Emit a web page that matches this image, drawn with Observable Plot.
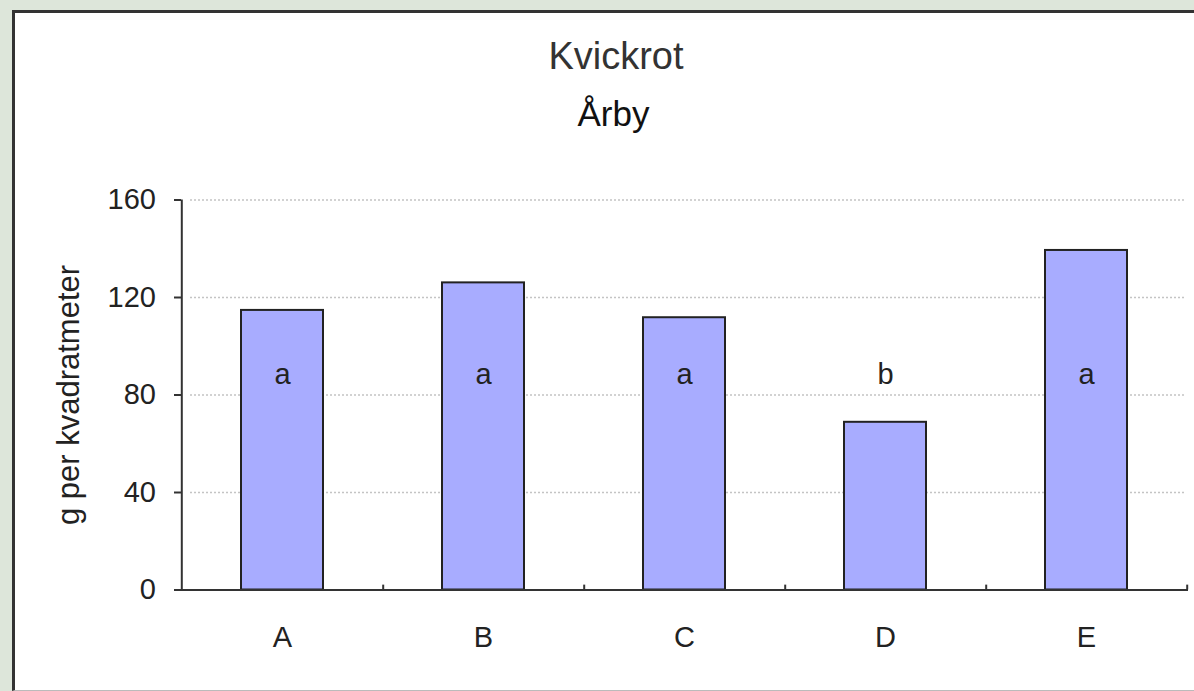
<!DOCTYPE html>
<html>
<head>
<meta charset="utf-8">
<script src="https://cdn.jsdelivr.net/npm/d3@7"></script>
<script src="https://cdn.jsdelivr.net/npm/@observablehq/plot@0.6"></script>
<style>
  html, body { margin: 0; padding: 0; width: 1194px; height: 691px; overflow: hidden; background: #dde6da; }
  #panel { position: absolute; left: 12px; top: 10px; width: 1300px; height: 677px; background: #fff;
           border-left: 3px solid #333; border-top: 3px solid #333; border-bottom: 1px solid #bbb; }
  .ttl { position: absolute; white-space: nowrap; transform: translateX(-50%); line-height: 1;
         font-family: "Liberation Sans", Arial, sans-serif; }
  #chart { position: absolute; left: 0; top: 0; }
</style>
</head>
<body>
<div id="panel"></div>
<div id="t1" class="ttl"></div>
<div id="t2" class="ttl"></div>
<div id="chart"></div>
<script>
const categories = ["A", "B", "C", "D", "E"];
const values = [114.7, 126, 111.7, 68.8, 139.3];
const letters = ["a", "a", "a", "b", "a"];
const yTicks = [0, 40, 80, 120, 160];
const letterLevel = 88.5;
const title = "Kvickrot";
const subtitle = "Årby";
const yLabel = "g per kvadratmeter";

const data = categories.map((c, i) => ({cat: c, value: values[i], letter: letters[i]}));

const W = 1194, H = 691, ML = 181, MR = 6, MT = 199.5, MB = 101.5;
const step = (W - ML - MR) / categories.length;

const t1 = document.getElementById("t1");
t1.textContent = title;
Object.assign(t1.style, {left: "616px", top: "36.5px", fontSize: "38px", color: "#333"});
const t2 = document.getElementById("t2");
t2.textContent = subtitle;
Object.assign(t2.style, {left: "613.5px", top: "95.5px", fontSize: "35px", color: "#111"});

const plot = Plot.plot({
  width: W, height: H,
  marginLeft: ML, marginRight: MR, marginTop: MT, marginBottom: MB,
  style: {background: "transparent", fontFamily: "'Liberation Sans', Arial, sans-serif", fontSize: "29px", color: "#222", overflow: "visible"},
  x: {domain: categories, paddingInner: 0.59, paddingOuter: 0.295, axis: null},
  y: {domain: [0, 160], axis: null},
  marks: [
    Plot.ruleY(yTicks.filter(t => t > 0), {stroke: "#c4c4c4", strokeWidth: 1.5, strokeDasharray: "2,2", insetLeft: 9, insetRight: 4}),
    Plot.barY(data, {x: "cat", y: "value", fill: "#a8acff", stroke: "#222", strokeWidth: 2}),
    Plot.text(data, {x: "cat", y: () => letterLevel, text: "letter", fontSize: 29, fill: "#222"}),
    Plot.ruleY([0], {stroke: "#333", strokeWidth: 2}),
    Plot.ruleX([categories[0]], {dx: -step / 2, y1: 0, y2: 160, stroke: "#333", strokeWidth: 2}),
    Plot.ruleX(categories, {dx: step / 2, y1: 0, y2: 2, stroke: "#333", strokeWidth: 2}),
    Plot.axisX({label: null, tickSize: 0, tickPadding: 36, fontSize: 29, fill: "#222"}),
    Plot.axisY({label: null, ticks: yTicks, tickSize: 7, tickPadding: 18.5, stroke: "#333", strokeWidth: 2, fontSize: 29, fill: "#222"}),
    Plot.text([yLabel], {text: d => d, frameAnchor: "left", textAnchor: "middle", rotate: -90, dx: -103, lineAnchor: "bottom", fontSize: 31, fill: "#222"})
  ]
});
document.getElementById("chart").appendChild(plot);
</script>
</body>
</html>
